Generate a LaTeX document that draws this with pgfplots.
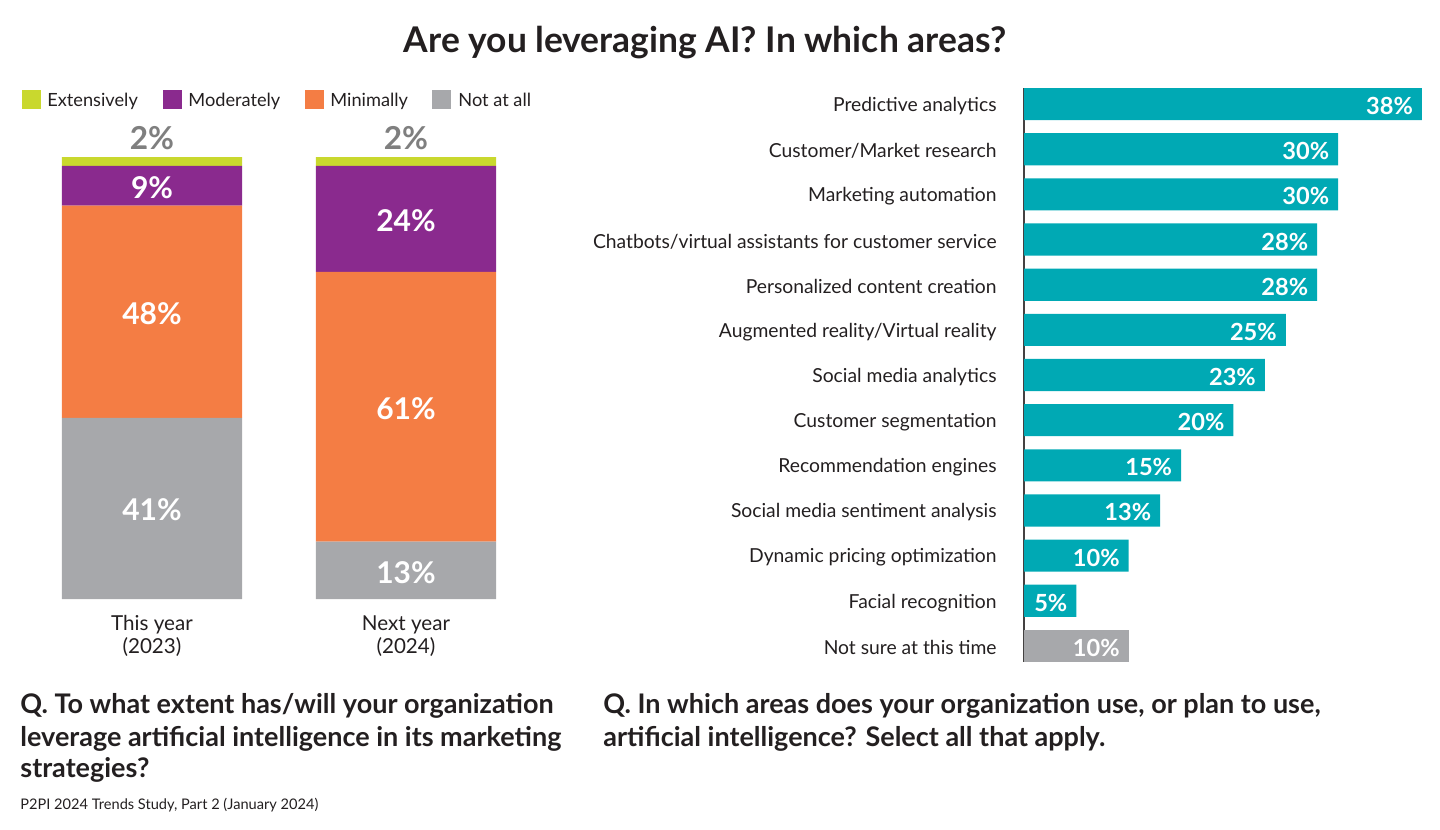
\documentclass[border=0pt]{standalone}
\usepackage{pgfplots}
\pgfplotsset{compat=1.18}
\usepackage{fontspec}
\setmainfont{Lato}
\definecolor{ext}{HTML}{C9D82E}
\definecolor{moder}{HTML}{8A2A8E}
\definecolor{minim}{HTML}{F47D44}
\definecolor{notat}{HTML}{A7A8AB}
\definecolor{tealc}{HTML}{00A9B4}
\definecolor{lblgray}{HTML}{7F7F7F}
\definecolor{txt}{HTML}{231F20}
\newcommand{\fs}[1]{\fontsize{#1bp}{#1bp}\selectfont}
\tikzset{inlbl/.style={font=\bfseries\fs{15}, text=white}}
\begin{document}
\begin{tikzpicture}
\path[use as bounding box] (0,0) rectangle (720bp,-415bp);
% left stacked chart
\begin{axis}[at={(12.5bp,-299.5bp)}, anchor=south west, scale only axis,
  width=254bp, height=221bp, xmin=-0.5, xmax=1.5, ymin=0, ymax=100,
  hide axis, ybar stacked, bar width=0.709, clip=false]
\addplot[fill=notat, draw=none] coordinates {(0,41) (1,13)};
\addplot[fill=minim, draw=none] coordinates {(0,48) (1,61)};
\addplot[fill=moder, draw=none] coordinates {(0,9) (1,24)};
\addplot[fill=ext, draw=none] coordinates {(0,2) (1,2)};
\end{axis}
% right horizontal bar chart
\begin{axis}[at={(512bp,-331bp)}, anchor=south west, scale only axis,
  width=206.8bp, height=287bp, xmin=0, xmax=39.5, ymin=-0.356, ymax=12.356,
  y dir=reverse, xbar, bar width=0.711, bar shift=0pt,
  axis x line=none, axis y line=left,
  y axis line style={-, draw=txt!85, line width=1bp},
  ytick={0,...,12}, major tick length=0pt,
  yticklabels={Predictive analytics, Customer/Market research, Marketing automation,
    Chatbots/virtual assistants for customer service, Personalized content creation,
    Augmented reality/Virtual reality, Social media analytics, Customer segmentation,
    Recommendation engines, Social media sentiment analysis, Dynamic pricing optimization,
    Facial recognition, Not sure at this time},
  yticklabel style={font=\fs{9.65}, text=txt, anchor=east, inner sep=0pt, xshift=-13.5bp, yshift=-1bp},
  /pgf/number format/assume math mode=true,
  nodes near coords={\pgfmathprintnumber{\pgfplotspointmeta}\%},
  every node near coord/.append style={anchor=east, text=white, font=\bfseries\fs{11.8}, xshift=-1bp, yshift=-1bp},
  clip=false]
\addplot[fill=tealc, draw=none] coordinates {(38,0) (30,1) (30,2) (28,3) (28,4) (25,5) (23,6) (20,7) (15,8) (13,9) (10,10) (5,11)};
\addplot[fill=notat, draw=none] coordinates {(10,12)};
\end{axis}
% texts in pixel coordinates
\begin{scope}[x=0.5bp, y=-0.5bp]
\node[inlbl] at (152,510) {41\%};
\node[inlbl] at (152,314) {48\%};
\node[inlbl] at (152,188) {9\%};
\node[inlbl] at (406,573) {13\%};
\node[inlbl] at (406,409) {61\%};
\node[inlbl] at (406,221) {24\%};
\node[font=\bfseries\fs{17.7}, text=txt, anchor=base] at (705,52) {Are you leveraging AI? In which areas?};
\fill[ext] (22,90) rectangle (41,109);
\fill[moder] (163,90) rectangle (182,109);
\fill[minim] (305,90) rectangle (324,109);
\fill[notat] (432,90) rectangle (451,109);
\node[font=\fs{9.1}, text=txt, anchor=base west, inner sep=0pt] at (47,107) {Extensively};
\node[font=\fs{9.1}, text=txt, anchor=base west, inner sep=0pt] at (188,107) {Moderately};
\node[font=\fs{9.1}, text=txt, anchor=base west, inner sep=0pt] at (330,107) {Minimally};
\node[font=\fs{9.1}, text=txt, anchor=base west, inner sep=0pt] at (458,107) {Not at all};
\node[font=\bfseries\fs{15.8}, text=lblgray, anchor=base] at (152,150) {2\%};
\node[font=\bfseries\fs{15.8}, text=lblgray, anchor=base] at (406,150) {2\%};
\node[font=\fs{10.3}, text=txt, anchor=base] at (152,631) {This year};
\node[font=\fs{10.3}, text=txt, anchor=base] at (152,654) {(2023)};
\node[font=\fs{10.3}, text=txt, anchor=base] at (406,631) {Next year};
\node[font=\fs{10.3}, text=txt, anchor=base] at (406,654) {(2024)};
\node[font=\bfseries\fs{13.5}, text=txt, anchor=base west, inner sep=0pt] at (20,714) {Q. To what extent has/will your organization};
\node[font=\bfseries\fs{13.5}, text=txt, anchor=base west, inner sep=0pt] at (20,747) {leverage artificial intelligence in its marketing};
\node[font=\bfseries\fs{13.5}, text=txt, anchor=base west, inner sep=0pt] at (20,778) {strategies?};
\node[font=\bfseries\fs{13.5}, text=txt, anchor=base west, inner sep=0pt] at (603,714) {Q. In which areas does your organization use, or plan to use,};
\node[font=\bfseries\fs{13.5}, text=txt, anchor=base west, inner sep=0pt] at (603,747) {artificial intelligence? Select all that apply.};
\node[font=\fs{7.3}, text=txt, anchor=base west, inner sep=0pt] at (20,810) {P2PI 2024 Trends Study, Part 2 (January 2024)};
\end{scope}
\end{tikzpicture}
\end{document}
